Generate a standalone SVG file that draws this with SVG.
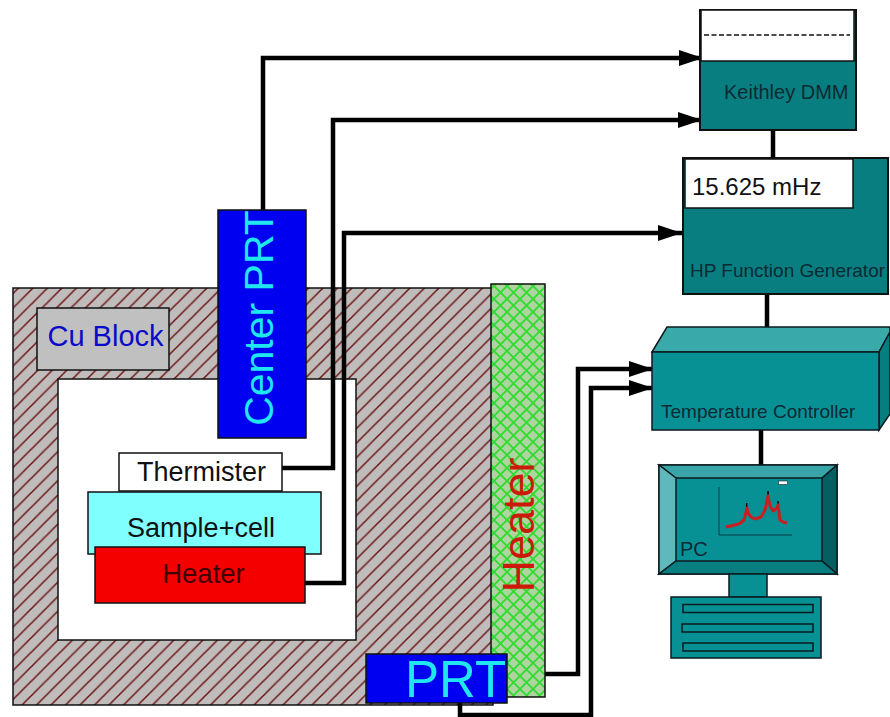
<svg xmlns="http://www.w3.org/2000/svg" width="890" height="717" viewBox="0 0 890 717">
<style>
text{font-family:"Liberation Sans",Arial,sans-serif}
.o{stroke:#0b1a1e;stroke-width:1.5}
.c{fill:none;stroke:#000;stroke-width:4.500}
.d{fill:#0b2a33}
.f{fill:#089195}
</style>
<defs>
<pattern id="hatch" width="14.500" height="14.500" patternUnits="userSpaceOnUse" patternTransform="translate(2 0)">
<rect width="14.500" height="14.500" fill="#c0bcbc"/>
<path d="M-2 16.500L16.500-2M-2 2L2-2M12.500 16.500L16.500 12.500" stroke="#6a1616" stroke-width="1.500"/>
</pattern>
<pattern id="cross" width="13" height="13" patternUnits="userSpaceOnUse">
<rect width="13" height="13" fill="#aed4a0"/>
<path d="M0 0L13 13M13 0L0 13" stroke="#2edb2e" stroke-width="1.800"/>
</pattern>
<marker id="arrow" markerUnits="userSpaceOnUse" markerWidth="25" markerHeight="18" refX="24" refY="9" orient="auto">
<path d="M0 1L24 9L0 17Z" fill="#000"/>
</marker>
</defs>
<rect width="890" height="717" fill="#fff"/>
<g id="cu-block-body">
<rect x="13" y="288" width="480" height="417" fill="url(#hatch)" stroke="#111" stroke-width="1.500"/>
<rect x="58" y="379" width="298" height="261" fill="#fff" stroke="#111" stroke-width="1.500"/>
</g>
<g id="connectors">
<path class="c" d="M263 212V58H703" marker-end="url(#arrow)"/>
<path class="c" d="M282 468H333V120H702" marker-end="url(#arrow)"/>
<path class="c" d="M305 583H344V233H682" marker-end="url(#arrow)"/>
<path class="c" d="M545 674H578V369H653" marker-end="url(#arrow)"/>
<path class="c" d="M460 700V715H591V388H653" marker-end="url(#arrow)"/>
<path class="c" d="M773 130V158"/>
<path class="c" d="M767 294V327"/>
<path class="c" d="M761 430V466"/>
</g>
<g id="cu-block">
<rect x="37" y="308" width="132" height="62" fill="#c0c0c0" stroke="#111" stroke-width="1.500"/>
<text x="105.500" y="346" font-size="29" fill="#0a0ac8" text-anchor="middle">Cu Block</text>
</g>
<g id="center-prt">
<rect x="218" y="210" width="88" height="228" fill="#0000f0" stroke="#111" stroke-width="1.500"/>
<text transform="translate(273 318) rotate(-90)" font-size="41" fill="#20e6f0" text-anchor="middle">Center PRT</text>
</g>
<g id="thermister">
<rect x="119" y="453" width="163" height="38" fill="#fff" stroke="#111" stroke-width="1.500"/>
<text x="201.500" y="481" font-size="27" fill="#111" text-anchor="middle">Thermister</text>
</g>
<g id="sample-cell">
<rect x="88" y="492" width="233" height="62" fill="#80ffff" stroke="#111" stroke-width="1.500"/>
<text x="201" y="537" font-size="27" fill="#111" text-anchor="middle">Sample+cell</text>
</g>
<g id="inner-heater">
<rect x="95" y="547" width="210" height="56" fill="#f40000" stroke="#111" stroke-width="1.500"/>
<text x="203.500" y="583" font-size="27.500" fill="#400000" text-anchor="middle">Heater</text>
</g>
<g id="outer-heater">
<rect x="491" y="284" width="54" height="413" fill="url(#cross)" stroke="#111" stroke-width="1.500"/>
<text transform="translate(534 525) rotate(-90)" font-size="45" fill="#cc1a0a" text-anchor="middle">Heater</text>
</g>
<g id="prt">
<rect x="366" y="654" width="141" height="49" fill="#0000f0" stroke="#111" stroke-width="1.500"/>
<text x="455.500" y="697" font-size="51" fill="#20e6f0" text-anchor="middle">PRT</text>
</g>
<g id="keithley-dmm">
<rect x="700" y="10" width="156" height="120" fill="#087e80" stroke="#111" stroke-width="2"/>
<rect x="701" y="10" width="153" height="51" fill="#fff" stroke="#111" stroke-width="1.500"/>
<path d="M704 35H850" stroke="#111" stroke-width="1.500" stroke-dasharray="5 2.500"/>
<text x="724" y="99" font-size="20" class="d">Keithley DMM</text>
</g>
<g id="hp-function-generator">
<rect x="683" y="158" width="205" height="136" fill="#087e80" stroke="#111" stroke-width="2"/>
<rect x="685" y="159" width="168" height="49" fill="#fff" stroke="#111" stroke-width="1.500"/>
<text x="692" y="195" font-size="24" fill="#111">15.625 mHz</text>
<text x="690" y="277" font-size="19" class="d">HP Function Generator</text>
</g>
<g id="temperature-controller">
<path d="M652 352L667 327H890V332L879 352Z" fill="#3aa9aa" class="o"/>
<path d="M879 352L890 332V414L879 430Z" fill="#067e80" class="o"/>
<rect x="652" y="352" width="227" height="78" class="f o"/>
<text x="661" y="418" font-size="19" class="d">Temperature Controller</text>
</g>
<g id="pc">
<rect x="659" y="465" width="178" height="109" class="f o"/>
<path d="M659 465H837L822 478H676Z" fill="#39a5a8" class="o"/>
<path d="M659 465L676 478V561L659 574Z" fill="#5fb8bb" class="o"/>
<path d="M837 465L822 478V561L837 574Z" fill="#045f63" class="o"/>
<path d="M659 574L676 561H822L837 574Z" fill="#087e80" class="o"/>
<rect x="729" y="574" width="38" height="23" class="f o"/>
<rect x="671" y="597" width="150" height="61" class="f o"/>
<rect x="683" y="604.500" width="130" height="8" class="f o"/>
<rect x="682" y="624" width="131" height="8" class="f o"/>
<rect x="683" y="643" width="130" height="8" class="f o"/>
<path d="M719 487V535H792" fill="none" stroke="#0b2a33" stroke-width="0.800"/>
<path d="M746.700 503V510M768 491V497M778 501V507" fill="none" stroke="#000" stroke-width="1.500"/>
<path d="M726 527L733 525.500L740 523.500L744 520L746 512L747 508L748 513L751 517L755 519L761 517L765 510L768 496L770 506L773 511L777 508L778 505L780 520L783 522L787 523" fill="none" stroke="#c82020" stroke-width="3" stroke-linejoin="round"/>
<rect x="778.500" y="481" width="9" height="3.500" fill="#fff" stroke="#222" stroke-width="0.600"/>
<text x="680" y="556" font-size="20" class="d">PC</text>
</g>
</svg>
